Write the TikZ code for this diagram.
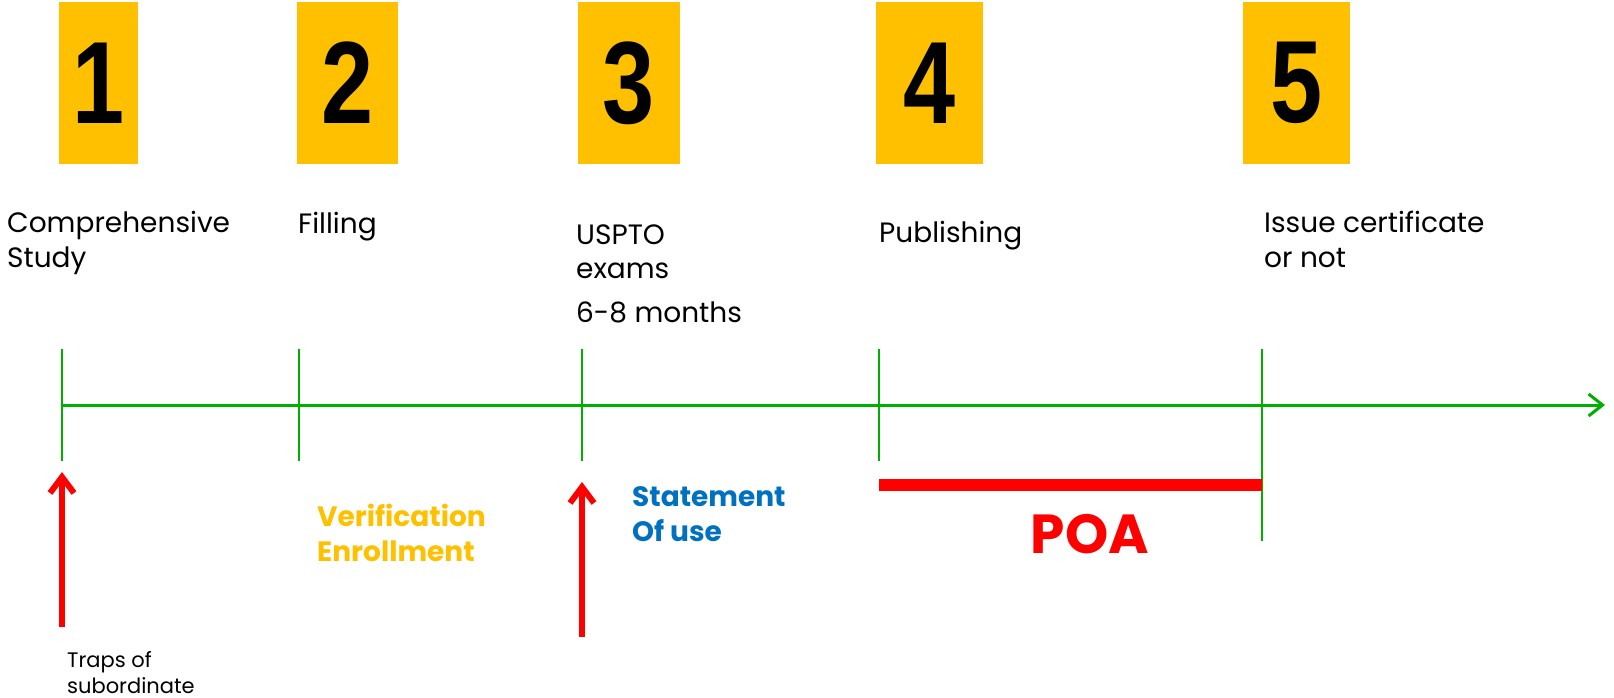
\documentclass[tikz,border=0pt]{standalone}
\usepackage{fontspec}
\setmainfont{Poppins}
\newfontfamily\digitfont{Liberation Sans}
\usetikzlibrary{positioning,arrows.meta}
\definecolor{gold}{HTML}{FFC000}
\definecolor{axisgreen}{HTML}{00B000}
\definecolor{soblue}{HTML}{0070C0}

\begin{document}
\begin{tikzpicture}[x=1pt,y=-1pt,
    numbox/.style={fill=gold,inner sep=0pt,minimum height=162pt,font=\digitfont\bfseries\fontsize{117}{117}\selectfont},
    steplabel/.style={anchor=base west,align=left,inner sep=0pt,font=\fontsize{28}{35}\selectfont},
    notelabel/.style={anchor=base west,align=left,inner sep=0pt,font=\bfseries\fontsize{28}{34.5}\selectfont},
    tickline/.style={draw=axisgreen,line width=2pt},
    pointer/.style={draw=red,line width=6pt,-{Straight Barb[length=16pt,width=24pt]}}]
    \useasboundingbox (0,0) rectangle (1614,698);

    % numbered steps
    \foreach \n/\x/\w in {1/98.5/79pt,2/347.5/101pt,3/629/102pt,4/929.5/107pt,5/1296.5/107pt}
        \node[numbox,minimum width=\w] (box\n) at (\x,83) {\scalebox{0.8}[1]{\n}};

    \node[steplabel] (study)   at (7,267)    {Comprehensive\\Study};
    \node[steplabel] (filling) at (298,233)  {Filling};
    \node[steplabel,font=\fontsize{28}{34}\selectfont] (exams) at (576,322) {USPTO\\exams\\[10pt]6-8 months};
    \node[steplabel] (publish) at (879,242)  {Publishing};
    \node[steplabel] (issue)   at (1264,267) {Issue certificate\\or not};

    % time line
    \coordinate (axisstart) at (62,405);
    \coordinate (axisend)   at (1605,405);
    \draw[axisgreen,line width=3pt,-{Straight Barb[length=14pt,width=22pt]}] (axisstart) -- (axisend);
    \foreach \n/\x/\b in {1/62/461,2/299/461,3/582/461,4/879/461,5/1262/541} {
        \coordinate (top\n) at (\x,349);
        \coordinate (bot\n) at (\x,\b);
        \draw[tickline] (top\n) -- (bot\n);
    }

    % POA span
    \coordinate (poastart) at (879,485);
    \coordinate (poaend)   at (1262,485);
    \draw[red,line width=12pt] (poastart) -- (poaend);
    \node[text=red,inner sep=0pt,anchor=base,font=\bfseries\fontsize{55}{55}\selectfont] (poa) at (1090,553) {POA};

    % pointers and notes
    \coordinate (trapfoot) at (62,627);
    \coordinate (traptip)  at (62,472);
    \draw[pointer] (trapfoot) -- (traptip);
    \coordinate (usefoot) at (582,637);
    \coordinate (usetip)  at (582,482);
    \draw[pointer] (usefoot) -- (usetip);

    \node[notelabel,text=gold]   (verify)    at (317,561) {Verification\\Enrollment};
    \node[notelabel,text=soblue] (statement) at (632,541) {Statement\\Of use};
    \node[anchor=base west,align=left,inner sep=0pt,font=\fontsize{21}{26}\selectfont] (traps) at (67,693) {Traps of\\subordinate};
\end{tikzpicture}
\end{document}
